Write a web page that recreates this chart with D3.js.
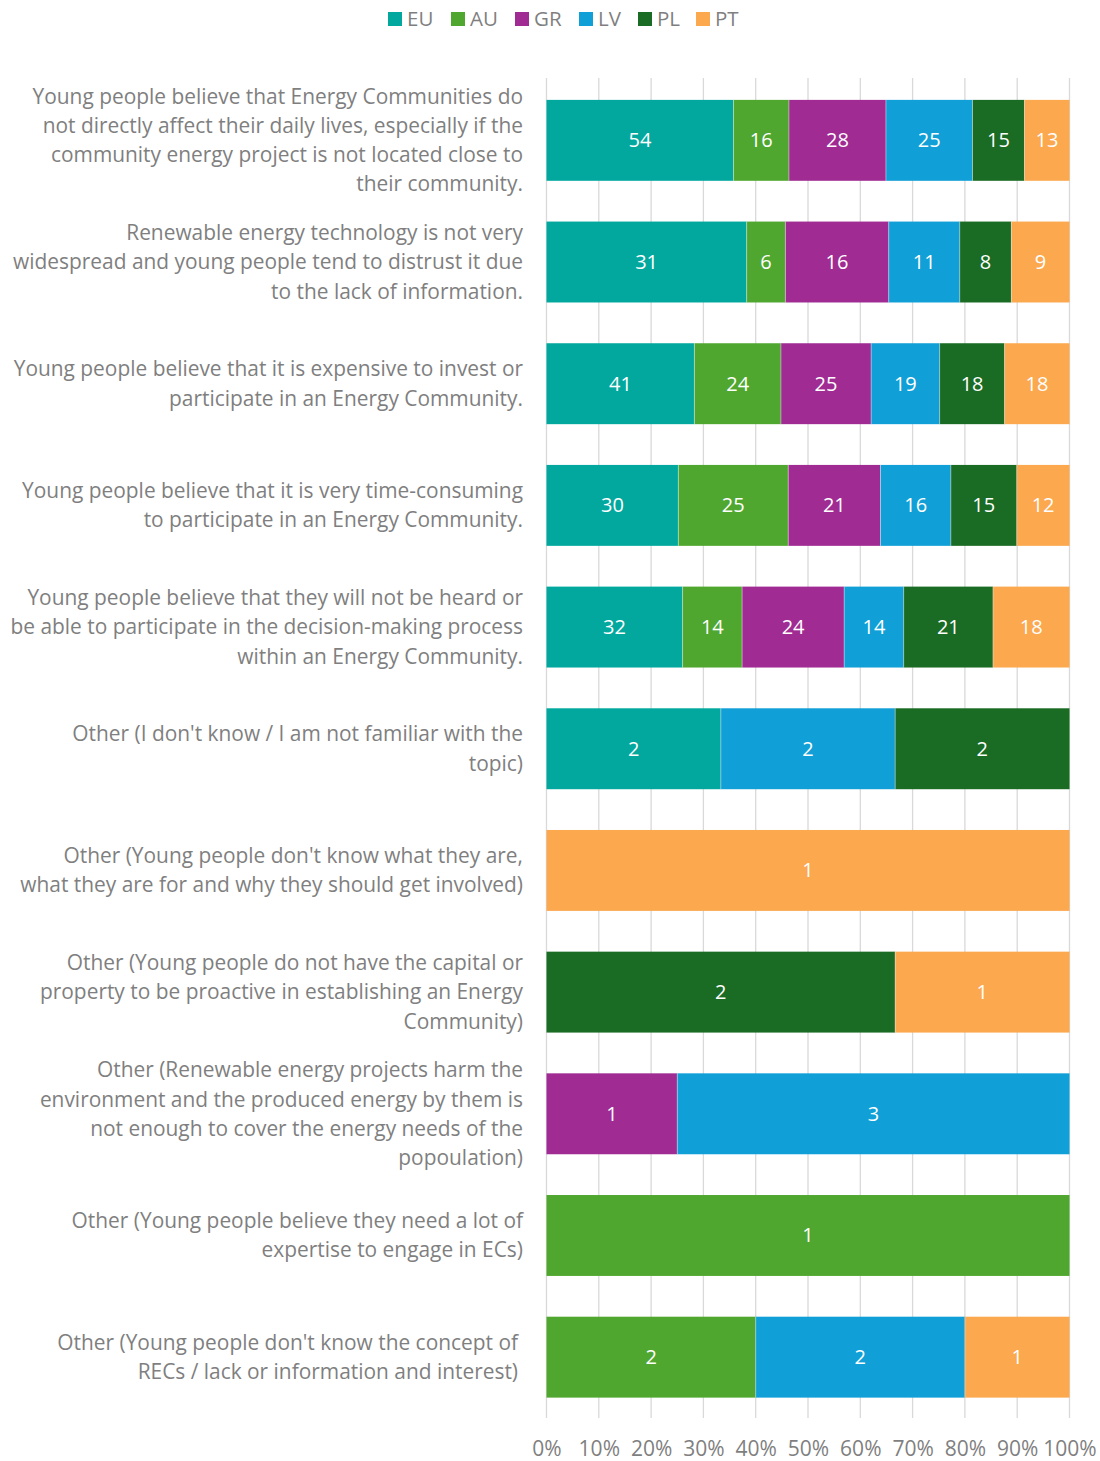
<!DOCTYPE html>
<html>
<head>
<meta charset="utf-8">
<script src="https://cdn.jsdelivr.net/npm/d3@7"></script>
<style>
  body { margin: 0; background: #fff; }
  text { font-family: "Open Sans", sans-serif; }
</style>
</head>
<body>
<svg id="chart" width="1100" height="1461"></svg>
<script>
// series names + colours
const seriesNames = ['EU', 'AU', 'GR', 'LV', 'PL', 'PT'];
const seriesColors = ['#02a89e', '#50a72f', '#a02b93', '#109fd7', '#1a6b24', '#fba84f'];

// category labels, already broken into lines like the original
const categories = [
    ['Young people believe that Energy Communities do', 'not directly affect their daily lives, especially if the', 'community energy project is not located close to', 'their community.'],
    ['Renewable energy technology is not very', 'widespread and young people tend to distrust it due', 'to the lack of information.'],
    ['Young people believe that it is expensive to invest or', 'participate in an Energy Community.'],
    ['Young people believe that it is very time-consuming', 'to participate in an Energy Community.'],
    ['Young people believe that they will not be heard or', 'be able to participate in the decision-making process', 'within an Energy Community.'],
    ['Other (I don\'t know / I am not familiar with the', 'topic)'],
    ['Other (Young people don\'t know what they are,', 'what they are for and why they should get involved)'],
    ['Other (Young people do not have the capital or', 'property to be proactive in establishing an Energy', 'Community)'],
    ['Other (Renewable energy projects harm the', 'environment and the produced energy by them is', 'not enough to cover the energy needs of the', 'popoulation)'],
    ['Other (Young people believe they need a lot of', 'expertise to engage in ECs)'],
    ['Other (Young people don\'t know the concept of', 'RECs / lack or information and interest)']
];

// counts per series, one entry per category
const EU = [54, 31, 41, 30, 32, 2, 0, 0, 0, 0, 0];
const AU = [16, 6, 24, 25, 14, 0, 0, 0, 0, 1, 2];
const GR = [28, 16, 25, 21, 24, 0, 0, 0, 1, 0, 0];
const LV = [25, 11, 19, 16, 14, 2, 0, 0, 3, 0, 2];
const PL = [15, 8, 18, 15, 21, 2, 0, 2, 0, 0, 0];
const PT = [13, 9, 18, 12, 18, 0, 1, 1, 0, 0, 1];

const tickValues = [0, 0.1, 0.2, 0.3, 0.4, 0.5, 0.6, 0.7, 0.8, 0.9, 1];

const seriesValues = [EU, AU, GR, LV, PL, PT];
const rows = categories.map((lines, i) => {
    const row = { idx: i, lines };
    seriesNames.forEach((s, k) => { row[s] = seriesValues[k][i]; });
    return row;
});

const svg = d3.select('#chart');
const margin = { left: 546.5, right: 1069.5, top: 79.5, bottom: 1418 };
const textGray = '#7f7f7f';

const x = d3.scaleLinear().domain([0, 1]).range([margin.left, margin.right]);
const y = d3.scaleBand()
    .domain(rows.map(d => d.idx))
    .range([margin.top, margin.bottom])
    .paddingInner(0.335)
    .paddingOuter(0.1675);
const color = d3.scaleOrdinal().domain(seriesNames).range(seriesColors);

// gridlines
svg.append('g')
    .selectAll('line')
    .data(tickValues)
    .join('line')
    .attr('x1', d => x(d))
    .attr('x2', d => x(d))
    .attr('y1', 78)
    .attr('y2', 1418)
    .attr('stroke', '#d9d9d9')
    .attr('stroke-width', 1.3);

// x axis labels
const xAxis = d3.axisBottom(x)
    .tickValues(tickValues)
    .tickFormat(d3.format('.0%'))
    .tickSize(0)
    .tickPadding(0);
const axisG = svg.append('g')
    .attr('transform', 'translate(0,1449)')
    .call(xAxis);
axisG.select('.domain').remove();
axisG.selectAll('text')
    .attr('fill', textGray)
    .style('font-size', '21px')
    .attr('dy', '0.35em');

// normalise rows and stack
const normRows = rows.map(r => {
    const total = d3.sum(seriesNames, s => r[s]);
    const out = { idx: r.idx };
    seriesNames.forEach(s => { out[s] = r[s] / total; out[s + '_raw'] = r[s]; });
    return out;
});
const stacked = d3.stack().keys(seriesNames)(normRows);

const layers = svg.append('g')
    .selectAll('g')
    .data(stacked)
    .join('g')
    .attr('fill', d => color(d.key));

layers.selectAll('rect')
    .data(d => d.map(p => Object.assign(p, { key: d.key })))
    .join('rect')
    .attr('x', d => x(d[0]))
    .attr('y', d => y(d.data.idx))
    .attr('width', d => x(d[1]) - x(d[0]))
    .attr('height', y.bandwidth());

// thin white separators like the original export
layers.selectAll('line')
    .data(d => d.filter(p => p[1] - p[0] > 0 && p[0] > 0))
    .join('line')
    .attr('x1', d => x(d[0]))
    .attr('x2', d => x(d[0]))
    .attr('y1', d => y(d.data.idx))
    .attr('y2', d => y(d.data.idx) + y.bandwidth())
    .attr('stroke', '#ffffff')
    .attr('stroke-opacity', 0.5)
    .attr('stroke-width', 0.8);

// value labels
layers.selectAll('text')
    .data(d => d.filter(p => p.data[d.key + '_raw'] > 0))
    .join('text')
    .attr('x', d => (x(d[0]) + x(d[1])) / 2)
    .attr('y', d => y(d.data.idx) + y.bandwidth() / 2)
    .attr('text-anchor', 'middle')
    .attr('dy', '0.35em')
    .attr('fill', '#ffffff')
    .style('font-size', '20px')
    .text(d => d.data[d.key + '_raw']);

// category labels
const lineH = 29.2;
const catG = svg.append('g');
rows.forEach(r => {
    const cy = y(r.idx) + y.bandwidth() / 2;
    const n = r.lines.length;
    const t = catG.append('text')
        .attr('text-anchor', 'end')
        .attr('fill', textGray)
        .style('font-size', '20.9px');
    r.lines.forEach((ln, j) => {
        t.append('tspan')
            .attr('x', r.idx === 10 ? 518 : 523)
            .attr('y', cy + (j - (n - 1) / 2) * lineH)
            .attr('dy', '0.35em')
            .text(ln);
    });
});

// legend
const legend = svg.append('g').attr('transform', 'translate(388,19)');
const itemX = [0, 63, 127, 191, 250, 308];
seriesNames.forEach((s, i) => {
    const g = legend.append('g').attr('transform', `translate(${itemX[i]},0)`);
    g.append('rect')
        .attr('x', 0)
        .attr('y', -7)
        .attr('width', 14)
        .attr('height', 14)
        .attr('fill', color(s));
    g.append('text')
        .attr('x', 19)
        .attr('y', 0)
        .attr('dy', '0.35em')
        .attr('fill', textGray)
        .style('font-size', '20.5px')
        .text(s);
});
</script>
</body>
</html>
